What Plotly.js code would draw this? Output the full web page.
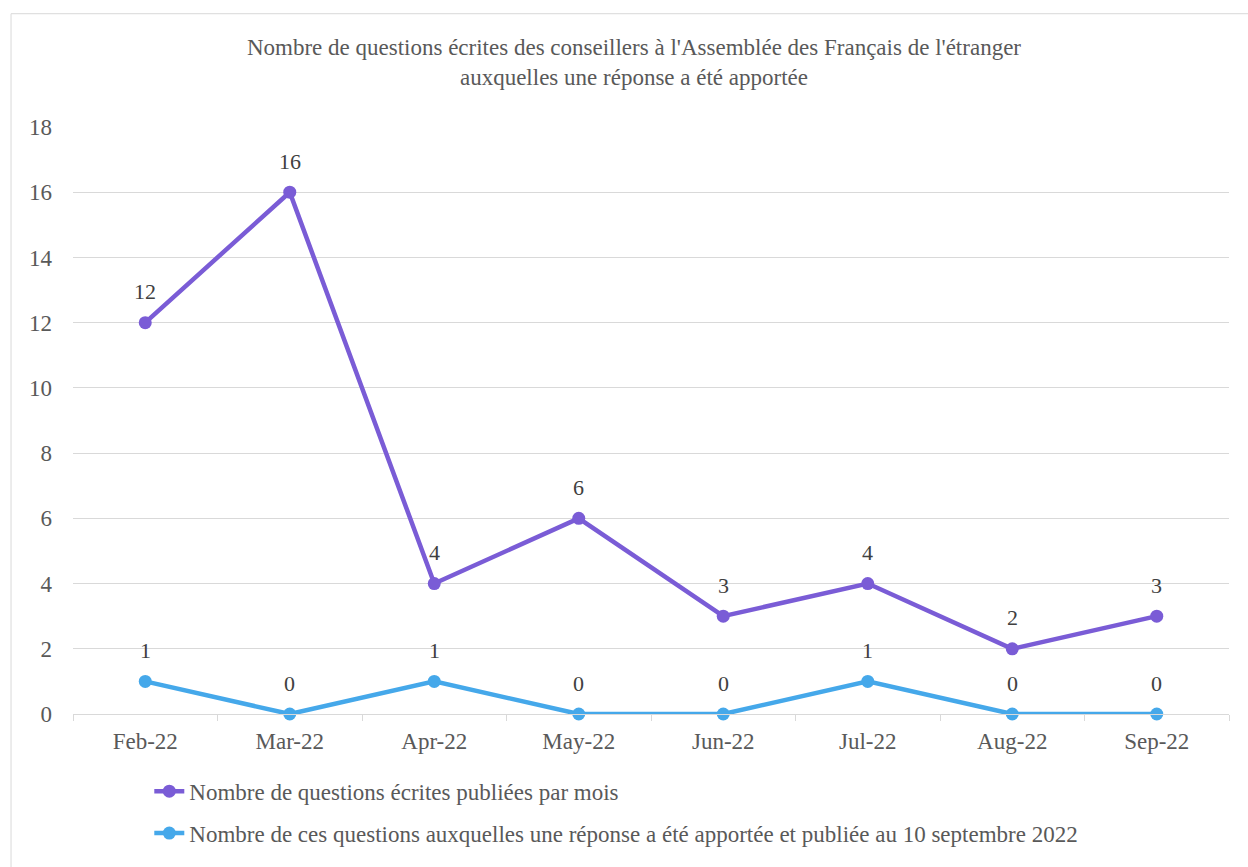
<!DOCTYPE html>
<html>
<head>
<meta charset="utf-8">
<script src="https://cdn.plot.ly/plotly-3.0.1.min.js"></script>
<style>
  body { margin: 0; background: #fff; }
  /* force the serif face on every chart text */
  .js-plotly-plot .main-svg text,
  .js-plotly-plot .main-svg tspan { font-family: "Liberation Serif", "Times New Roman", serif !important; }
</style>
</head>
<body>
<div id="chart"></div>
<script>
// data
const months = ["Feb-22", "Mar-22", "Apr-22", "May-22", "Jun-22", "Jul-22", "Aug-22", "Sep-22"];
const published = [12, 16, 4, 6, 3, 4, 2, 3];
const answered = [1, 0, 1, 0, 0, 1, 0, 0];

const seriesNames = [
  "Nombre de questions écrites publiées par mois",
  "Nombre de ces questions auxquelles une réponse a été apportée et publiée au 10 septembre 2022"
];

const serif = "Liberation Serif, Times New Roman, serif";

function lineTrace(y, name, color, group) {
  return {
    type: "scatter",
    mode: "lines+markers",
    x: months,
    y: y,
    name: name,
    legendgroup: group,
    line: { color: color, width: 4.5 },
    marker: { color: color, size: 13 },
    cliponaxis: false
  };
}

const traces = [
  lineTrace(published, seriesNames[0], "#7A5CD6", "a"),
  lineTrace(answered, seriesNames[1], "#45A8EA", "b")
];

// value labels above each point
const labels = [];
[published, answered].forEach(ys => {
  ys.forEach((v, i) => {
    labels.push({
      x: months[i], y: v, text: String(v),
      showarrow: false, yshift: 31,
      font: { family: serif, size: 22, color: "#404040" }
    });
  });
});

// outer chart frame (left and top edges visible in the reference)
const frame = [
  { type: "line", xref: "paper", yref: "paper", x0: -0.0536, x1: -0.0536, y0: -0.3, y1: 1.193,
    line: { color: "#d9d9d9", width: 1 } },
  { type: "line", xref: "paper", yref: "paper", x0: -0.0536, x1: 1.05, y0: 1.193, y1: 1.193,
    line: { color: "#d9d9d9", width: 1 } }
];

const layout = {
  width: 1248,
  height: 867,
  margin: { l: 73, r: 19, t: 127, b: 150 },
  paper_bgcolor: "#fff",
  plot_bgcolor: "#fff",
  font: { family: serif },
  title: {
    text: "Nombre de questions écrites des conseillers à l'Assemblée des Français de l'étranger<br>auxquelles une réponse a été apportée",
    font: { family: serif, size: 23, color: "#595959" },
    x: 0.508,
    xanchor: "center",
    y: 0.936,
    yanchor: "top"
  },
  xaxis: {
    type: "category",
    range: [-0.5, 7.5],
    showgrid: false,
    showline: true,
    linecolor: "#d9d9d9",
    linewidth: 1,
    ticks: "outside",
    tickson: "boundaries",
    ticklen: 6,
    tickcolor: "#d9d9d9",
    ticklabelstandoff: 6,
    tickfont: { family: serif, size: 23, color: "#595959" }
  },
  yaxis: {
    range: [0, 18],
    dtick: 2,
    showgrid: true,
    gridcolor: "#d9d9d9",
    gridwidth: 1,
    zeroline: false,
    showline: false,
    ticks: "",
    ticklabelstandoff: 20,
    tickfont: { family: serif, size: 23, color: "#595959" }
  },
  annotations: labels,
  shapes: frame,
  showlegend: true,
  legend: {
    orientation: "v",
    x: 0.066,
    xanchor: "left",
    y: -0.095,
    yanchor: "top",
    traceorder: "grouped",
    tracegroupgap: 9,
    font: { family: serif, size: 23, color: "#595959" },
    bgcolor: "rgba(0,0,0,0)"
  }
};

Plotly.newPlot("chart", traces, layout, { displayModeBar: false });
</script>
</body>
</html>
